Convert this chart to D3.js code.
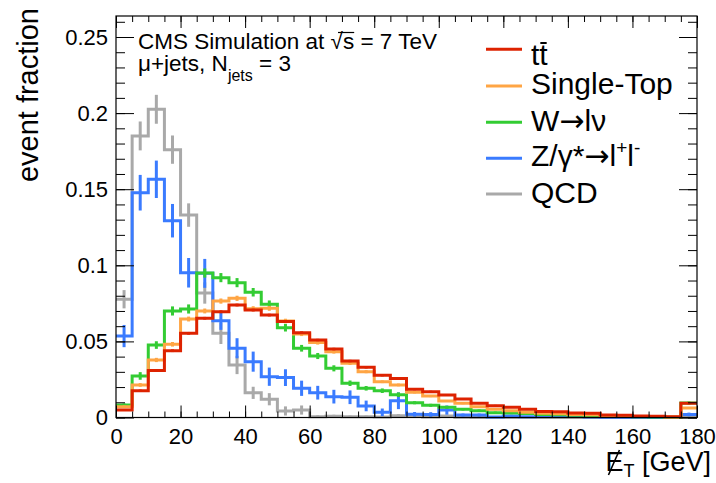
<!DOCTYPE html>
<html><head><meta charset="utf-8">
<script src="https://cdn.jsdelivr.net/npm/d3@7"></script>
<style>
body{margin:0;background:#fff}
svg{display:block}
text{font-family:"Liberation Sans",Arial,Helvetica,sans-serif;fill:#000}
</style>
</head><body>
<svg id="c" width="716" height="483"></svg>
<script>
// ---- data ----
const binLow = [0,5,10,15,20,25,30,35,40,45,50,55,60,65,70,75,80,85,90,95,100,105,110,115,120,125,130,135,140,145,150,155,160,165,170,175];
const binWidth = 5;
const xTicks = [0,20,40,60,80,100,120,140,160,180];
const xTickLabels = ["0","20","40","60","80","100","120","140","160","180"];
const yTicks = [0,0.05,0.1,0.15,0.2,0.25];
const yTickLabels = ["0","0.05","0.1","0.15","0.2","0.25"];

const ttbar = [0.0049,0.0176,0.0308,0.0439,0.0553,0.0652,0.0695,0.0739,0.0706,0.0673,0.0630,0.0557,0.0509,0.0450,0.0371,0.0330,0.0277,0.0256,0.0185,0.0170,0.0148,0.0122,0.0093,0.0078,0.0067,0.0054,0.0040,0.0038,0.0029,0.0028,0.0017,0.0015,0.0010,0.0009,0.0005,0.0093];
const ttbarErr = [0.0006,0.0008,0.0008,0.0009,0.0009,0.0009,0.0009,0.0009,0.0009,0.0009,0.0009,0.0009,0.0008,0.0008,0.0008,0.0008,0.0007,0.0007,0.0006,0.0006,0.0006,0.0005,0.0005,0.0005,0.0004,0.0004,0.0004,0.0004,0.0003,0.0003,0.0003,0.0003,0.0002,0.0002,0.0002,0.0005];

const singleTop = [0.0071,0.0214,0.0378,0.0481,0.0647,0.0700,0.0765,0.0783,0.0715,0.0717,0.0634,0.0549,0.0492,0.0432,0.0356,0.0301,0.0235,0.0214,0.0166,0.0141,0.0108,0.0093,0.0071,0.0054,0.0045,0.0034,0.0028,0.0025,0.0020,0.0018,0.0012,0.0010,0.0007,0.0006,0.0003,0.0062];
const singleTopErr = [0.0008,0.0012,0.0014,0.0015,0.0016,0.0016,0.0017,0.0017,0.0016,0.0016,0.0015,0.0014,0.0013,0.0012,0.0011,0.0010,0.0009,0.0009,0.0008,0.0007,0.0006,0.0006,0.0005,0.0005,0.0004,0.0004,0.0003,0.0003,0.0003,0.0003,0.0002,0.0002,0.0002,0.0002,0.0001,0.0005];

const wJets = [0.0082,0.0273,0.0476,0.0700,0.0713,0.0949,0.0919,0.0886,0.0823,0.0744,0.0590,0.0455,0.0404,0.0323,0.0225,0.0192,0.0176,0.0150,0.0097,0.0080,0.0067,0.0054,0.0045,0.0032,0.0030,0.0026,0.0020,0.0018,0.0015,0.0012,0.0008,0.0007,0.0005,0.0004,0.0002,0.0095];
const wJetsErr = [0.0010,0.0025,0.0025,0.0030,0.0030,0.0030,0.0030,0.0030,0.0028,0.0025,0.0025,0.0022,0.0020,0.0020,0.0018,0.0015,0.0015,0.0015,0.0010,0.0010,0.0009,0.0008,0.0008,0.0007,0.0006,0.0006,0.0005,0.0005,0.0004,0.0004,0.0003,0.0003,0.0002,0.0002,0.0001,0.0010];

const dyJets = [0.0535,0.1477,0.1565,0.1293,0.0951,0.0947,0.0636,0.0455,0.0367,0.0268,0.0262,0.0192,0.0163,0.0137,0.0133,0.0076,0.0034,0.0110,0.0021,0.0020,0.0049,0.0016,0.0016,0.0004,0.0010,0.0005,0.0012,0.0012,0.0008,0.0003,0.0002,0.0001,0.0001,0,0,0.0020];
const dyJetsErr = [0.0073,0.0117,0.0123,0.0110,0.0097,0.0095,0.0060,0.0066,0.0066,0.0060,0.0055,0.0050,0.0045,0.0045,0.0045,0.0035,0.0025,0.0055,0.0015,0.0015,0.0030,0.0010,0.0010,0.0005,0.0008,0.0005,0.0008,0.0008,0.0006,0.0003,0.0002,0.0001,0.0001,0,0,0.0012];

const qcd = [0.0777,0.1850,0.2025,0.1760,0.1330,0.0818,0.0553,0.0345,0.0162,0.0120,0.0043,0.0049,0.0005,0.0008,0.0005,0.0005,0.0003,0.0012,0.0008,0.0003,0.0010,0.0002,0,0,0,0,0,0,0,0,0,0,0,0,0,0];
const qcdErr = [0.0060,0.0095,0.0095,0.0093,0.0077,0.0070,0.0070,0.0060,0.0040,0.0040,0.0030,0.0030,0.0010,0.0010,0.0008,0.0008,0.0006,0.0010,0.0008,0.0005,0.0008,0.0004,0,0,0,0,0,0,0,0,0,0,0,0,0,0];

const legendNames = ["tt\u0304", "Single-Top", "W\u2192l\u03BD", "Z/\u03B3*\u2192l+l-", "QCD"];

// ---- chart ----
const svg = d3.select("#c");
const x = d3.scaleLinear().domain([0, 180]).range([116, 697]);
const y = d3.scaleLinear().domain([0, 0.2638]).range([417.5, 16]);

const series = [
  {key:"qcd", values:qcd, errors:qcdErr, color:"#a9a9a9"},
  {key:"dy", values:dyJets, errors:dyJetsErr, color:"#3a7bff"},
  {key:"w", values:wJets, errors:wJetsErr, color:"#33cc33"},
  {key:"st", values:singleTop, errors:singleTopErr, color:"#ffa544"},
  {key:"tt", values:ttbar, errors:ttbarErr, color:"#dd2200"}
];

const line = d3.line().x(d => x(d[0])).y(d => y(d[1]));
const gH = svg.append("g");
series.forEach(s => {
  const pts = [];
  binLow.forEach((b, i) => { pts.push([b, s.values[i]]); pts.push([b + binWidth, s.values[i]]); });
  gH.append("path").attr("d", line(pts)).attr("fill", "none")
    .attr("stroke", s.color).attr("stroke-width", 3).attr("stroke-linejoin", "miter");
  gH.selectAll(null).data(binLow.map((b, i) => ({c: b + binWidth / 2, v: s.values[i], e: s.errors[i]})).filter(d => d.e > 0))
    .enter().append("line")
    .attr("x1", d => x(d.c)).attr("x2", d => x(d.c))
    .attr("y1", d => y(Math.max(0, d.v - d.e))).attr("y2", d => y(d.v + d.e))
    .attr("stroke", s.color).attr("stroke-width", 3);
});

// axes
const xMinor = d3.range(0, 181, 5);
const yMinor = d3.range(0, 0.2601, 0.01);
function axisG(axis, tx, ty) {
  const g = svg.append("g").attr("transform", `translate(${tx},${ty})`).call(axis);
  g.select(".domain").remove();
  g.selectAll(".tick line").attr("stroke", "#000").attr("stroke-width", 1);
  return g;
}
axisG(d3.axisBottom(x).tickValues(xMinor).tickSize(-6).tickFormat(""), 0, 417.5);
const gxb = axisG(d3.axisBottom(x).tickValues(xTicks).tickSize(-12).tickPadding(11).tickFormat((d, i) => xTickLabels[i]), 0, 417.5);
gxb.selectAll("text").attr("font-size", 22).attr("font-family", null);
axisG(d3.axisTop(x).tickValues(xMinor).tickSize(-6).tickFormat(""), 0, 16);
axisG(d3.axisTop(x).tickValues(xTicks).tickSize(-12).tickFormat(""), 0, 16);
axisG(d3.axisLeft(y).tickValues(yMinor).tickSize(-9).tickFormat(""), 116, 0);
const gyl = axisG(d3.axisLeft(y).tickValues(yTicks).tickSize(-18).tickPadding(8).tickFormat((d, i) => yTickLabels[i]), 116, 0);
gyl.selectAll("text").attr("font-size", 22).attr("font-family", null);
axisG(d3.axisRight(y).tickValues(yMinor).tickSize(-9).tickFormat(""), 697, 0);
axisG(d3.axisRight(y).tickValues(yTicks).tickSize(-18).tickFormat(""), 697, 0);

// frame
svg.append("rect").attr("x", 116).attr("y", 16).attr("width", 581).attr("height", 401.5)
  .attr("fill", "none").attr("stroke", "#000").attr("stroke-width", 1.2);

// y axis title
svg.append("text").attr("transform", "translate(38,8) rotate(-90)")
  .attr("text-anchor", "end").attr("font-size", 29).text("event fraction");

// x axis title
const xt = svg.append("text").attr("x", 711).attr("y", 471).attr("text-anchor", "end").attr("font-size", 27);
xt.append("tspan").text("E");
xt.append("tspan").attr("font-size", 18).attr("dy", 6).text("T");
xt.append("tspan").attr("dy", -6).text(" [GeV]");
const eBox = xt.node().getExtentOfChar(0);
svg.append("line").attr("x1", eBox.x + 3).attr("y1", 475).attr("x2", eBox.x + 14).attr("y2", 450)
  .attr("stroke", "#000").attr("stroke-width", 1.6);

// CMS label
const t1 = svg.append("text").attr("x", 138).attr("y", 49).attr("font-size", 22.5);
t1.append("tspan").text("CMS Simulation at ");
t1.append("tspan").text("\u221As");
t1.append("tspan").text(" = 7 TeV");
{
  const n = t1.node();
  const idx = "CMS Simulation at ".length;
  const r = n.getExtentOfChar(idx);
  const s = n.getExtentOfChar(idx + 1);
  svg.append("line").attr("x1", r.x + r.width * 0.6).attr("x2", s.x + s.width)
    .attr("y1", 32.5).attr("y2", 32.5).attr("stroke", "#000").attr("stroke-width", 1.2);
}
const t2 = svg.append("text").attr("x", 138).attr("y", 71).attr("font-size", 22.5);
t2.append("tspan").text("\u03BC+jets, N");
t2.append("tspan").attr("font-size", 16).attr("dy", 10).text("jets");
t2.append("tspan").attr("dy", -10).text(" = 3");

// legend
const legLineY = [49.3, 86, 122.3, 158.3, 194];
const legTextY = [65, 94, 131, 166, 203];
const legColors = ["#dd2200", "#ffa544", "#33cc33", "#3a7bff", "#a9a9a9"];
const arrowFont = "'DejaVu Sans'";
legendNames.forEach((name, i) => {
  svg.append("line").attr("x1", 486).attr("x2", 522).attr("y1", legLineY[i]).attr("y2", legLineY[i])
    .attr("stroke", legColors[i]).attr("stroke-width", 3);
  const t = svg.append("text").attr("x", 531).attr("y", legTextY[i]).attr("font-size", 30);
  if (i === 0) {
    t.text("tt");
    const e = t.node().getExtentOfChar(1);
    svg.append("line").attr("x1", e.x + 1).attr("x2", e.x + e.width - 1)
      .attr("y1", legTextY[i] - 22).attr("y2", legTextY[i] - 22).attr("stroke", "#000").attr("stroke-width", 2);
  } else if (i === 2) {
    t.append("tspan").text("W");
    t.append("tspan").style("font-family", arrowFont).text("\u2192");
    t.append("tspan").text("l\u03BD");
  } else if (i === 3) {
    t.append("tspan").text("Z/\u03B3*");
    t.append("tspan").style("font-family", arrowFont).text("\u2192");
    t.append("tspan").text("l");
    t.append("tspan").attr("font-size", 19).attr("dy", -12).text("+");
    t.append("tspan").attr("dy", 12).text("l");
    t.append("tspan").attr("font-size", 19).attr("dy", -12).text("-");
  } else {
    t.text(name);
  }
});
</script>
</body></html>
